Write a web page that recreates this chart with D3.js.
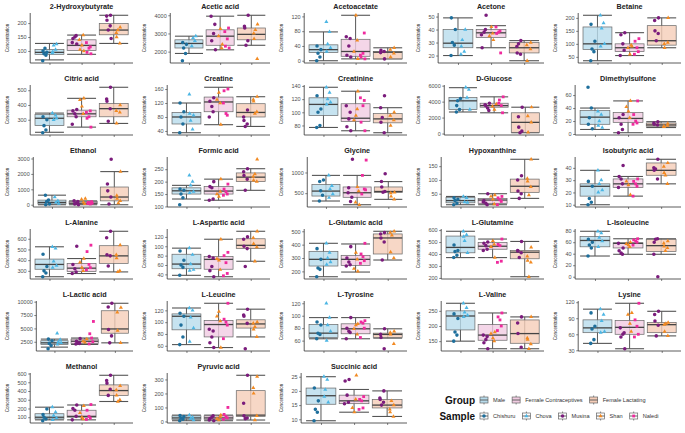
<!DOCTYPE html>
<html><head><meta charset="utf-8">
<script src="https://cdn.jsdelivr.net/npm/d3@7"></script>
<style>body{margin:0;background:#fff}svg{display:block}</style>
</head><body><svg id="c" width="685" height="433"></svg>
<script>
const metabolites = ["2-Hydroxybutyrate","Acetic acid","Acetoacetate","Acetone","Betaine",
 "Citric acid","Creatine","Creatinine","D-Glucose","Dimethylsulfone",
 "Ethanol","Formic acid","Glycine","Hypoxanthine","Isobutyric acid",
 "L-Alanine","L-Aspartic acid","L-Glutamic acid","L-Glutamine","L-Isoleucine",
 "L-Lactic acid","L-Leucine","L-Tyrosine","L-Valine","Lysine",
 "Methanol","Pyruvic acid","Succinic acid"];
const yTicks = [[100,150,200],[2000,3000,4000],[0,40,80,120],[20,30,40,50],[50,100,150,200],
 [300,400,500],[40,80,120,160],[80,100,120,140],[0,2000,4000,6000],[0,20,40,60],
 [0,1000,2000,3000],[100,150,200,250],[500,1000],[50,100,150],[10,20,30,40],
 [300,400,500,600],[40,60,80,100,120],[200,300,400,500],[200,300,400,500,600],[0,20,40,60,80],
 [2500,5000,7500,10000],[60,80,100,120],[60,80,100,120],[150,200,250],[30,60,90,120],
 [100,200,300,400,500,600],[0,100,200,300],[10,15,20,25]];
// box stats: [lower whisker, Q1, median, Q3, upper whisker]
const boxMale = [[68,88,95,105,127],[1900,2200,2450,2650,2850],[0,22,30,43,78],[20,26,29.5,40,49],[35,78,100,165,210],
 [215,260,310,335,345],[35,60,80,93,120],[77,95,112,122,138],[2700,3000,4100,4500,5750],[7,15,26,36,40],
 [0,50,150,300,620],[130,150,163,175,185],[310,430,550,710,930],[10,17,25,37,40],[10,17,25,27,38],
 [245,315,360,410,525],[38,52,62,83,96],[160,240,290,350,410],[370,410,455,550,590],[36,52,63,70,79],
 [1500,2000,2300,2700,3000],[62,87,110,114,124],[63,65,72,86,97],[150,187,233,250,275],[43,63,72,87,107],
 [70,80,100,140,215],[5,15,25,40,45],[9.5,15.3,18.3,21,25]];
const boxContra = [[88,102,120,140,157],[2100,2350,2850,3200,3950],[5,12,25,58,123],[26,34,37.5,40,43],[55,70,85,100,143],
 [250,320,340,365,445],[58,95,123,137,165],[72,86,91,113,132],[2600,3300,3500,3800,4600],[2,18,24,33,51],
 [0,50,100,200,250],[125,150,162,180,210],[220,400,510,650,930],[10,15,27,33,50],[17,24,27,31,33],
 [275,295,325,370,415],[35,51,72,78,115],[195,245,290,320,405],[370,440,465,495,525],[39,50,58,59,66],
 [2000,2200,2600,3000,3200],[57,75,96,103,132],[63,71,79,87,97],[125,153,170,205,243],[33,60,73,86,118],
 [70,100,110,180,240],[5,15,25,40,45],[12.5,15.5,16.5,18.5,20.5]];
const boxLact = [[127,158,175,198,228],[2350,2650,2950,3300,4000],[5,5,23,25,35],[16,22,26,30,31.5],[85,95,112,170,200],
 [275,320,375,410,520],[53,80,93,118,138],[69,84,90,98,107],[100,150,1400,2600,3300],[10,12,14,17,19],
 [0,250,500,1150,2150],[165,200,218,235,252],[350,520,540,650,780],[33,55,77,103,175],[27,34,38,44,47],
 [290,370,440,535,670],[68,95,102,116,132],[285,330,450,480,500],[210,360,415,430,505],[39,44,54,65,66],
 [2300,4100,4900,8300,9700],[75,90,97,104,122],[64,65,70,72,79],[125,143,175,220,230],[57,63,78,82,103],
 [280,350,405,470,580],[10,35,45,220,330],[11,14,15,17,20]];
// points by sample (Male: Chishuru, Chova; Female Contraceptives: Musina, Shan, Naledi; Female Lactating: Musina, Shan)
const ptsChishuru = [[65,85,90,95,100,110],[1500,1900,2200,2400,2500],[0,10,20,30,40],[20,28,30,40,49],[35,70,80,110,175],
 [212,230,260,300,320],[35,60,80,95,120],[77,80,100,105,125],[2700,3000,4100,4400,3500],[72,40,25,8,15],
 [620,300,200,50,0],[107,135,150,165,170],[310,450,560,820,780],[10,15,25,30,35],[10,12,15,25,29],
 [245,280,300,340,455],[38,55,60,70,90],[160,215,225,290,370],[370,390,420,430,475],[36,50,55,60,65],
 [1200,1800,2200,2700,3000],[62,75,95,110,115],[63,70,72,85,90],[150,170,180,225,240],[43,50,70,75,100],
 [60,80,100,195,130],[5,15,25,35,42],[9.5,12.5,13.5,16.5,21]];
const ptsChova = [[92,105,120,125,97],[2300,2600,2750,2850],[105,78,45,35,25],[21,23,32,40,27],[210,180,160,100,90],
 [345,330,300,310],[145,45,70,85,90],[138,130,120,115,112],[5800,5500,4500,3000],[35,30,20,10,13],
 [500,250,150,80],[225,200,185,160,155],[930,680,600,480,390],[40,35,20,18],[38,30,27,22,20],
 [525,510,390,350,330],[96,82,62,50,48],[410,340,300,270,250],[590,560,510,410,545],[79,76,68,62,52],
 [4100,2900,2500,2300,2000],[124,120,108,90,67],[120,97,85,75,60],[275,260,245,235,230],[107,97,85,65,63],
 [215,160,120,90,70],[45,30,20,10],[25,24,20.5,16,18]];
const ptsMusinaC = [[125,145,150,155,130],[2100,2600,3000,3500,3950],[10,15,40,60,65],[51,26,38,40,36],[143,135,100,75,55],
 [370,360,340,320,270],[135,125,110,95,80],[72,78,90,100,110],[3800,3500,3200,2900,3600],[30,25,15,7,2],
 [0,50,100,200,250],[200,180,175,130,125],[1320,630,300,400,510],[50,25,15,10,20],[42,33,31,27,24],
 [530,360,320,290,275],[35,48,57,75,78],[385,300,270,250,240],[500,490,470,440,430],[50,45,41,39,58],
 [3100,2600,2300,2200,2100],[57,65,75,85,88],[97,80,75,73,63],[125,145,155,165,170],[33,55,60,63,72],
 [240,200,180,110,70],[5,20,30,40,10],[24,23.5,18.5,16,15.5]];
const ptsShanC = [[100,105,120,157,140],[2400,2850,3250,2200],[5,25,123,55],[32,35,42,37],[90,85,60,95],
 [445,435,390,340],[58,130,150,120],[132,88,95,105],[3700,3400,3000],[51,42,35,25],
 [400,350,150,50],[210,150,140,160],[220,280,650,550],[45,40,30,12],[18,29,26],
 [415,380,330,300],[115,73,70,50],[200,220,340,290],[370,460,510,480],[60,57,55,52],
 [3000,2600,2400],[57,110,118,102],[87,79,85,70],[180,175,160,150],[100,97,80,65],
 [230,150,100,80],[45,20,10,35],[25.5,14,12.5,17]];
const ptsNalediC = [[90,95,110,115,130],[2200,2300,2700,3300,3100],[5,10,20,75,15],[22,37,38,39,42],[120,110,85,70,60],
 [250,310,320,360,350],[160,155,90,85,120],[72,85,110,118,122],[4600,4200,3500,2600,3800],[51,30,20,17,15],
 [100,150,50,200,80],[190,170,160,150,145],[1300,930,600,580,480],[40,35,28,22,10],[31,29,27,25,17],
 [540,480,360,330,310],[87,80,65,42,37],[410,330,310,280,260],[525,480,470,340,330],[66,64,62,60,55],
 [6300,4000,3200,2500,2100],[132,105,100,95,72],[92,90,88,80,65],[243,230,220,200,185],[118,87,75,60,55],
 [245,180,110,90,75],[100,50,35,25,15],[18,17,16.5,14,13.5]];
const ptsMusinaL = [[228,225,210,190,175,145],[4000,3400,3300,2600,2350],[5,22,28,25],[31.5,27,22,21,29],[200,190,150,140,112],
 [520,440,425,375,290],[100,80,70,60,53],[125,107,85,69,92],[3300,2100,800,300,100],[19,17,15,14],
 [2950,1350,900,500,50],[252,240,225,210,165],[970,780,650,540,520],[115,100,60,50,33],[47,40,38,31,39],
 [670,610,450,440,345],[120,115,100,95,57],[490,480,450,420,285],[505,430,425,410,370],[0,39,60,66,65],
 [9700,9000,4800,3600,2300],[122,112,110,98,55],[79,70,65,47],[230,210,175,130],[103,97,85,77,57],
 [580,520,490,420,350],[330,130,40,25,20],[20,17.5,17,16,15]];
const ptsShanL = [[185,165,150,127,175],[3500,3000,2700,1600,3200],[35,30,10,20],[30,28,16,25],[200,100,85,105],
 [400,360,275,350],[138,130,125,95,90],[100,95,80,88],[3300,2200,150,1400],[16,12,11,13],
 [2150,600,400,250,100],[290,220,205,200,230],[520,500,420,350],[175,105,95,75,45],[44,41,36,27,34],
 [540,450,420,300,290],[132,118,105,98,68],[500,490,345,300,470],[455,380,345,330,210],[62,58,53,50,45],
 [8900,8000,4600,2300],[100,98,88,75,92],[75,73,70,55],[230,160,155,140,125],[82,78,65,57,80],
 [460,410,350,300,280],[320,240,200,40,10],[15,13.5,12.5,11,16.5]];
const groups = ["Male","Female Contraceptives","Female Lactating"];
const samples = ["Chishuru","Chova","Musina","Shan","Naledi"];

const groupFill = {"Male":"#b8dcec","Female Contraceptives":"#f1cce2","Female Lactating":"#f5cdb8"};
const sampleColor = {"Chishuru":"#1e6f9c","Chova":"#4cb6e4","Musina":"#7b1c7c","Shan":"#f28a22","Naledi":"#ef2a9d"};
const sampleShape = {"Chishuru":d3.symbolCircle,"Chova":d3.symbolTriangle,"Musina":d3.symbolCircle,"Shan":d3.symbolTriangle,"Naledi":d3.symbolSquare};
const FONT = "'Liberation Sans', Arial, sans-serif";
const jit = [-0.06,0.04,-0.02,0.07,-0.05,0.01,0.05,-0.07];

const svg = d3.select("#c");
const cellW = 137, cellH = 72;

const measure = svg.append("text").style("font-family",FONT).style("font-size","5.5px");
function tw(s){ measure.text(s); return measure.node().getComputedTextLength(); }
function symSize(s){ return sampleShape[s]===d3.symbolCircle?10:(sampleShape[s]===d3.symbolTriangle?7:8); }

metabolites.forEach((name,i)=>{
  const col=i%5,row=Math.floor(i/5);
  const cx=col*cellW, cy=row*cellH;
  const ticks=yTicks[i];
  const lw=d3.max(ticks,t=>tw(String(t)));
  const left=cx+18+lw+3, right=cx+133, top=cy+13, bottom=cy+63;
  const series=[
    {g:0,s:"Chishuru",v:ptsChishuru[i],dx:-0.15},
    {g:0,s:"Chova",v:ptsChova[i],dx:0.15},
    {g:1,s:"Musina",v:ptsMusinaC[i],dx:-0.22},
    {g:1,s:"Shan",v:ptsShanC[i],dx:0},
    {g:1,s:"Naledi",v:ptsNalediC[i],dx:0.22},
    {g:2,s:"Musina",v:ptsMusinaL[i],dx:-0.15},
    {g:2,s:"Shan",v:ptsShanL[i],dx:0.15}];
  const boxes=[boxMale[i],boxContra[i],boxLact[i]];
  const all=[].concat(...series.map(d=>d.v),...boxes);
  const [mn,mx]=d3.extent(all); const pad=(mx-mn)*0.05;
  const y=d3.scaleLinear().domain([mn-pad,mx+pad]).range([bottom,top]);
  const x=d3.scaleLinear().domain([0.4,3.6]).range([left,right]);
  const g=svg.append("g");
  g.append("text").attr("x",(left+right)/2).attr("y",cy+9).attr("text-anchor","middle")
    .style("font-family",FONT).style("font-size","7.2px").style("font-weight","bold").attr("fill","#222").text(name);
  g.append("text").attr("transform",`translate(${cx+9},${(top+bottom)/2}) rotate(-90)`).attr("text-anchor","middle")
    .style("font-family",FONT).style("font-size","4.6px").attr("fill","#222").text("Concentration");
  const ya=g.append("g").attr("transform",`translate(${left},0)`)
    .call(d3.axisLeft(y).tickValues(ticks.filter(t=>t>=y.domain()[0]&&t<=y.domain()[1])).tickSize(2).tickPadding(1.5).tickFormat(d3.format("d")));
  const xa=g.append("g").attr("transform",`translate(0,${bottom})`)
    .call(d3.axisBottom(x).tickValues([1,2,3]).tickSize(2).tickFormat(""));
  [ya,xa].forEach(a=>{
    a.select(".domain").attr("stroke","#333").attr("stroke-width",0.8);
    a.selectAll(".tick line").attr("stroke","#333").attr("stroke-width",0.6);
    a.selectAll(".tick text").style("font-family",FONT).style("font-size","5.5px").attr("fill","#4d4d4d");
  });
  xa.select(".domain").attr("d",`M${left},0H${right}`);
  ya.select(".domain").attr("d",`M0,${top}V${bottom}`);
  const bw=0.9;
  boxes.forEach((b,gi)=>{
    const xc=x(gi+1), x0=x(gi+1-bw/2), x1=x(gi+1+bw/2);
    const bg=g.append("g");
    bg.append("line").attr("x1",xc).attr("x2",xc).attr("y1",y(b[0])).attr("y2",y(b[4])).attr("stroke","#444").attr("stroke-width",0.9);
    [b[0],b[4]].forEach(v=>bg.append("line").attr("x1",x0).attr("x2",x1).attr("y1",y(v)).attr("y2",y(v))
      .attr("stroke","#555").attr("stroke-width",1.1));
    bg.append("rect").attr("x",x0).attr("width",x1-x0).attr("y",y(b[3])).attr("height",Math.max(0.5,y(b[1])-y(b[3])))
      .attr("fill",groupFill[groups[gi]]).attr("fill-opacity",0.8).attr("stroke","#666").attr("stroke-width",0.7);
    bg.append("line").attr("x1",x0).attr("x2",x1).attr("y1",y(b[2])).attr("y2",y(b[2])).attr("stroke","#444").attr("stroke-width",1.3);
  });
  series.forEach(sr=>{
    sr.v.forEach((v,k)=>{
      const px=x(sr.g+1+sr.dx+jit[(k+sr.g*3)%jit.length]);
      g.append("path").attr("d",d3.symbol().type(sampleShape[sr.s]).size(symSize(sr.s))())
        .attr("transform",`translate(${px},${y(v)})`).attr("fill",sampleColor[sr.s]);
    });
  });
});
measure.remove();

function legendRow(title,items,yy,isGroup){
  const L=svg.append("g");
  L.append("text").attr("x",475).attr("y",yy+3.5).attr("text-anchor","end").style("font-family",FONT)
    .style("font-size","10px").style("font-weight","bold").attr("fill","#111").text(title);
  let xx=480;
  items.forEach(it=>{
    const k=L.append("g").attr("transform",`translate(${xx},${yy})`);
    k.append("line").attr("x1",4).attr("x2",4).attr("y1",-4.5).attr("y2",4.5).attr("stroke","#555").attr("stroke-width",0.7);
    k.append("rect").attr("x",0).attr("y",-3).attr("width",8).attr("height",6)
      .attr("fill",isGroup?groupFill[it]:"#fff").attr("stroke","#666").attr("stroke-width",0.7);
    k.append("line").attr("x1",0).attr("x2",8).attr("y1",0).attr("y2",0).attr("stroke","#555").attr("stroke-width",0.9);
    if(!isGroup) k.append("path").attr("d",d3.symbol().type(sampleShape[it]).size(symSize(it))()).attr("transform","translate(4,0)").attr("fill",sampleColor[it]);
    const t=L.append("text").attr("x",xx+13).attr("y",yy+2).style("font-family",FONT).style("font-size","5.6px").attr("fill","#333").text(it);
    xx+=13+t.node().getComputedTextLength()+7;
  });
}
legendRow("Group",groups,400,true);
legendRow("Sample",samples,416,false);
</script></body></html>
